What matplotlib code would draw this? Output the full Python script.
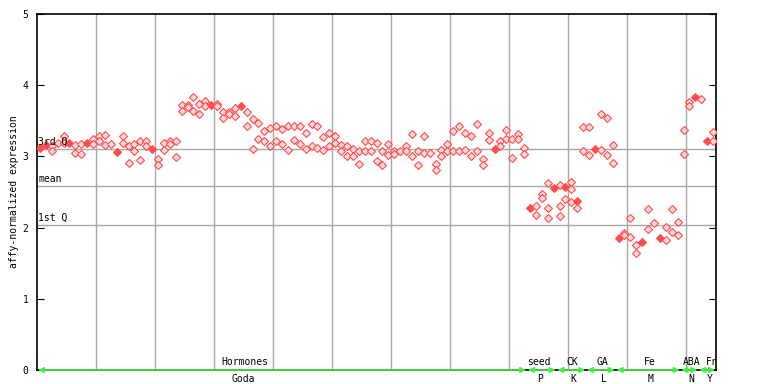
import matplotlib
matplotlib.use("Agg")
import matplotlib.pyplot as plt

# expression values per sample column (replicates share a column)
hormones = [
    [3.12, 3.12], [3.16, 3.16], [3.15, 3.08], [3.19], [3.29, 3.19], [3.19, 3.19], [3.16, 3.05], [3.18, 3.04],
    [3.19, 3.19], [3.25, 3.18], [3.28, 3.21], [3.30, 3.16], [3.18], [3.06, 3.06], [3.28, 3.19], [3.14, 2.91],
    [3.18, 3.07], [3.21, 2.95], [3.22, 3.15], [3.10, 3.10], [2.97, 2.88], [3.19, 3.09], [3.21, 3.18], [3.22, 2.99],
    [3.72, 3.64], [3.72, 3.70], [3.84, 3.64], [3.74, 3.59], [3.78, 3.71], [3.72, 3.72], [3.74, 3.71], [3.63, 3.54],
    [3.63, 3.60], [3.68, 3.57], [3.71, 3.71], [3.63, 3.43], [3.52, 3.11], [3.47, 3.25], [3.36, 3.22], [3.40, 3.14],
    [3.42, 3.22], [3.38, 3.18], [3.42, 3.09], [3.42, 3.23], [3.43, 3.18], [3.33, 3.11], [3.46, 3.15], [3.42, 3.12],
    [3.27, 3.09], [3.33, 3.15], [3.28, 3.19], [3.16, 3.07], [3.15, 3.01], [3.11, 3.01], [3.08, 2.90], [3.22, 3.08],
    [3.21, 3.07], [3.19, 2.94], [3.08, 2.88], [3.18, 3.02], [3.07, 3.04], [3.07], [3.14, 3.08], [3.32, 3.00],
    [3.08, 2.88], [3.28, 3.05], [3.05], [2.90, 2.81], [3.09, 3.00], [3.18, 3.08], [3.36, 3.08], [3.42, 3.08],
    [3.33, 3.09], [3.28, 3.01], [3.45, 3.08], [2.97, 2.88], [3.33, 3.23], [3.10, 3.10], [3.22, 3.15], [3.37, 3.25],
    [3.24, 2.98], [3.32, 3.24], [3.12, 3.03],
]
seed = [[2.28, 2.28], [2.30, 2.17], [2.47, 2.41], [2.63, 2.27, 2.13], [2.55, 2.55]]
ck = [[2.60, 2.30, 2.16], [2.57, 2.57, 2.40], [2.64, 2.54, 2.36], [2.38, 2.38, 2.27], [3.41, 3.07]]
ga = [[3.41, 3.02], [3.10, 3.10], [3.60, 3.09], [3.54, 3.02], [3.16, 2.91]]
fe = [[1.86, 1.86], [1.93, 1.90], [2.14, 1.87], [1.76, 1.64], [1.80, 1.80], [2.26, 1.98], [2.06],
      [1.85, 1.85], [2.01, 1.82], [2.26, 1.94], [2.08, 1.89]]
aba = [[3.37, 3.03], [3.77, 3.71], [3.83, 3.83]]
fr = [[3.81], [3.21, 3.21], [3.34, 3.21]]

groups = [hormones, seed, ck, ga, fe, aba, fr]
categories = ["Hormones", "seed", "CK", "GA", "Fe", "ABA", "Fr"]
experiments = ["Goda", "P", "K", "L", "M", "N", "Y"]
cat_x = [35.2, 85.0, 90.7, 95.7, 103.7, 110.8, 114.3]
exp_x = [34.9, 85.2, 90.8, 96.0, 104.0, 110.9, 113.9]

q3, mean, q1 = 3.10, 2.58, 2.035

mono = "DejaVu Sans Mono"
red = "#ff4d4d"
grid = "#a8a8a8"
green = "#44ee44"

fig = plt.figure(figsize=(7.68, 3.84), dpi=100)
ax = fig.add_axes([37 / 768, 14 / 384, 679 / 768, 356 / 384])

ncols = sum(len(g) for g in groups)
ax.set_xlim(0, ncols)
ax.set_ylim(0, 5)

# grid
for gx in range(10, ncols, 10):
    ax.axvline(gx, color=grid, lw=1, zorder=1)
for val, name in [(q3, "3rd Q"), (mean, "mean"), (q1, "1st Q")]:
    ax.axhline(val, color=grid, lw=1, zorder=1)
    ax.text(0.2, val + 0.03, name, fontsize=7, family=mono, va="bottom", ha="left", zorder=6)

# points
col = 0
bounds = []
for g in groups:
    start = col
    for vals in g:
        x = col + 0.5
        seen = []
        for v in vals:
            if v in seen:
                continue
            seen.append(v)
            solid = vals.count(v) > 1
            ax.plot(x, v, marker="D", ms=3.9, ls="none",
                    mfc=red if solid else "#ffdada", mec=red, mew=0.8, zorder=4)
        col += 1
    bounds.append((start, col))

# group arrows and labels
for (a, b), cat, exp, cx, ex in zip(bounds, categories, experiments, cat_x, exp_x):
    ax.annotate("", xy=(b - 0.15, 0), xytext=(a + 0.15, 0),
                arrowprops=dict(arrowstyle="<|-|>", color=green, lw=1.2,
                                mutation_scale=8, shrinkA=0, shrinkB=0),
                annotation_clip=False, zorder=5)
    ax.text(cx, 0.04, cat, fontsize=7, family=mono, ha="center", va="bottom", zorder=6)
    ax.annotate(exp, xy=(ex, 0), xytext=(0, -3), textcoords="offset points",
                fontsize=7, family=mono, ha="center", va="top", annotation_clip=False)

ax.set_xticks([])
ax.set_yticks(range(6))
ax.tick_params(axis="y", direction="in", length=5, labelsize=7, right=True, pad=6)
for lab in ax.get_yticklabels():
    lab.set_family(mono)
for s in ax.spines.values():
    s.set_linewidth(1.2)

ax.set_ylabel("affy-normalized expression", fontsize=7, family=mono, labelpad=3)

fig.savefig("out.png", dpi=100)
